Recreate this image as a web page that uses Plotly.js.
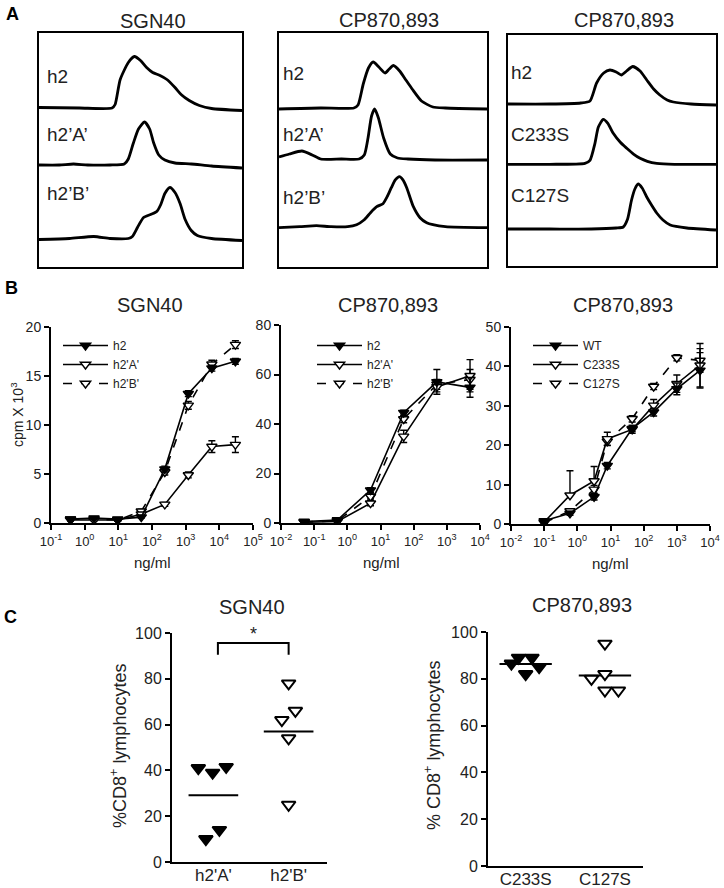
<!DOCTYPE html>
<html lang="en">
<head>
<meta charset="UTF-8">
<title>CD40 antibodies - binding, proliferation, CD8</title>
<script src="https://cdn.plot.ly/plotly-3.0.0.min.js"></script>
<style>
  html, body { margin: 0; padding: 0; background: #fff; }
  #plot { width: 724px; height: 888px; }
</style>
</head>
<body>
<div id="plot"></div>
<script>
// ---------- panel A: flow histograms (x = % of channel range, y = relative counts)
const sgnH2X  = [0, 20, 36, 37.5, 40, 44, 47, 50, 53, 56, 59.6, 63, 67, 70, 74, 79, 85, 100];
const sgnH2Y  = [2, 1.5, 1.5, 5, 30, 47, 53, 49, 42, 37, 34, 30, 22, 15, 9, 4, 1, -1];
const sgnH2AX = [0, 10, 17, 24, 35, 42, 44, 46.5, 49, 52, 54.5, 56.5, 59, 62, 67, 75, 85, 100];
const sgnH2AY = [2, 2, 3, 2, 2, 3, 8, 24, 38, 45, 38, 24, 12, 7, 4, 3, 1, -1];
const sgnH2BX = [0, 15, 27, 35, 44, 46, 48.5, 51.5, 55, 58, 60, 62, 64.5, 67, 69.5, 72, 75, 78, 85, 100];
const sgnH2BY = [0, 1, 3, 1, 1, 3, 12, 22, 25, 28, 35, 46, 52, 47, 36, 20, 9, 4, 1, -1];

const cpH2X  = [0, 20, 36, 38, 40.5, 43, 45.3, 48, 51, 53, 55, 58, 61, 64, 68.5, 74, 80, 100];
const cpH2Y  = [0, 1, 1, 4, 25, 41, 47, 42, 36, 40, 43.5, 38, 29, 20, 8, 2, 1, 0];
const cpH2AX = [0, 5, 11, 16, 20, 30, 38.5, 41, 42.8, 44.5, 46, 47.8, 50.3, 53.5, 57, 62, 75, 100];
const cpH2AY = [3, 6, 9, 5, 1, 1, 1, 5, 22, 44, 51, 42, 22, 6, 2, 1, 0, 0];
const cpH2BX = [0, 10, 18, 25, 33, 37.3, 41, 44, 47, 50, 52, 54, 56, 57.9, 59.5, 61.4, 64.6, 67.8, 71, 74, 80, 100];
const cpH2BY = [0, 1, 2, 1, 1, 3, 8, 15, 21, 24, 31, 40, 48, 51, 48, 40, 21, 10, 5, 3, 1, 0];

const mutH2X    = [0, 20, 35, 39.4, 42.6, 46, 49, 52, 54.5, 57, 60, 63.5, 66.7, 70, 73, 76.5, 79.5, 88, 100];
const mutH2Y    = [0, 0, 1, 3, 21, 31, 34, 32, 29, 33, 37.5, 33, 24, 15, 9, 4, 2, 0, -1];
const mutC233SX = [0, 20, 37, 39.4, 41.8, 43.4, 45.8, 48, 50.6, 54, 57.1, 60.5, 63.5, 67, 71.5, 80, 100];
const mutC233SY = [0, 0, 1, 4, 21, 37, 45, 41, 31, 22, 16, 10, 6, 3, 1, 0, 0];
const mutC127SX = [0, 20, 40, 52, 55.4, 57.5, 59.4, 61, 62.6, 64.5, 66.7, 69, 71.5, 74.5, 78, 86, 100];
const mutC127SY = [0, 0, 0, 1, 2, 10, 29, 40, 45, 41, 32, 24, 16, 9, 4, 1, -1];

// ---------- panel B: proliferation, cpm x 10^3
const conc1     = [0.38, 1.9, 9.6, 48, 240, 1200, 6000, 30000];
const sgnH2     = [0.4, 0.5, 0.4, 0.6, 5.5, 13.2, 15.8, 16.5];
const sgnH2A    = [0.3, 0.3, 0.3, 0.9, 1.9, 4.9, 7.8, 8.0];
const sgnH2B    = [0.4, 0.4, 0.3, 1.2, 5.2, 12.0, 16.2, 18.2];
const sgnH2Err  = [0.1, 0.1, 0.1, 0.1, 0.3, 0.3, 0.3, 0.3];
const sgnH2AErr = [0.1, 0.1, 0.1, 0.1, 0.2, 0.3, 0.6, 0.8];
const sgnH2BErr = [0.1, 0.1, 0.1, 0.2, 0.3, 0.4, 0.4, 0.4];

const conc2    = [0.05, 0.5, 5, 50, 500, 5000];
const cpH2     = [0.6, 1.2, 13.3, 44.6, 57, 54.8];
const cpH2A    = [0.3, 0.6, 8.0, 35.0, 55, 59.5];
const cpH2B    = [0.4, 0.9, 10.7, 42, 56, 58];
const cpH2Err  = [0.3, 0.3, 1, 1, 5, 4];
const cpH2AErr = [0.2, 0.2, 1, 2.5, 2, 6.5];
const cpH2BErr = [0.2, 0.2, 1, 1.5, 2, 4];

const conc3       = [0.1, 0.6, 3.2, 8, 45, 200, 1000, 5000];
const wt          = [0.8, 2.7, 6.9, 14.8, 24.2, 28.4, 34.3, 39.0];
const c233s       = [0.5, 7.3, 10.9, 21.6, 24.0, 30.1, 35.6, 40.3];
const c127s       = [0.3, 3.3, 8.8, 21.0, 26.7, 34.9, 42.2, 41.5];
const wtErr       = [0.3, 0.5, 0.8, 0.8, 0.8, 1, 1.5, 4.5];
const c233sErr    = [0.2, 6.2, 3.7, 1.7, 1, 1.5, 2.2, 5.5];
const c233sErrLow = [0.2, 0, 0, 1.7, 1, 1.5, 2.2, 5.5];
const c127sErr    = [0.2, 0.5, 1, 1, 0.8, 0.8, 0.8, 3];

// ---------- panel C: % CD8+ lymphocytes
const sgnCats   = ["h2'A'", "h2'B'"];
const sgnA      = [41, 39, 41.5, 10, 14];
const sgnB      = [78, 66, 62, 54, 25];
const cpCats    = ['C233S', 'C127S'];
const c233sPct  = [86.5, 89, 82, 89, 85];
const c127sPct  = [95, 80, 82, 75, 75];

// ---------- helpers (pixel -> paper)
const W = 724, H = 888;
function px(x) { return x / W; }
function py(y) { return 1 - y / H; }
function xd(a, b) { return [a / W, b / W]; }
function yd(top, bottom) { return [1 - bottom / H, 1 - top / H]; }

const FONT = 'Liberation Sans, Arial, sans-serif';
const TXT = '#222';

let traces = [];

// ----- A
function hist(xs, ys, base, ax) {
    return {
        x: xs, y: ys.map(v => v + base), type: 'scatter', mode: 'lines',
        line: {color: 'black', width: 2.8, shape: 'spline', smoothing: 0.6},
        xaxis: 'x' + ax, yaxis: 'y' + ax, showlegend: false, hoverinfo: 'skip'
    };
}
traces.push(hist(sgnH2X, sgnH2Y, 157.5, ''));
traces.push(hist(sgnH2AX, sgnH2AY, 100, ''));
traces.push(hist(sgnH2BX, sgnH2BY, 27.5, ''));
traces.push(hist(cpH2X, cpH2Y, 158, '2'));
traces.push(hist(cpH2AX, cpH2AY, 107, '2'));
traces.push(hist(cpH2BX, cpH2BY, 39.3, '2'));
traces.push(hist(mutH2X, mutH2Y, 162, '3'));
traces.push(hist(mutC233SX, mutC233SY, 101.7, '3'));
traces.push(hist(mutC127SX, mutC127SY, 37, '3'));

// ----- B
function curve(x, y, err, errLow, name, filled, dash, ax, leg) {
    return {
        x: x, y: y, type: 'scatter', mode: 'lines+markers', name: name,
        xaxis: 'x' + ax, yaxis: 'y' + ax, legend: leg,
        line: {color: 'black', width: 1.6, dash: dash},
        marker: {symbol: 'triangle-down', size: 9, color: filled ? 'black' : 'white',
                 line: {color: 'black', width: 1.4}},
        error_y: {type: 'data', symmetric: false, array: err, arrayminus: errLow, visible: true,
                  color: 'black', thickness: 1.4, width: 3.5},
        hoverinfo: 'skip'
    };
}
traces.push(curve(conc1, sgnH2B, sgnH2BErr, sgnH2BErr, "h2'B'", false, 'dash', '4', 'legend'));
traces.push(curve(conc1, sgnH2A, sgnH2AErr, sgnH2AErr, "h2'A'", false, 'solid', '4', 'legend'));
traces.push(curve(conc1, sgnH2, sgnH2Err, sgnH2Err, 'h2', true, 'solid', '4', 'legend'));
traces.push(curve(conc2, cpH2B, cpH2BErr, cpH2BErr, "h2'B'", false, 'dash', '5', 'legend2'));
traces.push(curve(conc2, cpH2A, cpH2AErr, cpH2AErr, "h2'A'", false, 'solid', '5', 'legend2'));
traces.push(curve(conc2, cpH2, cpH2Err, cpH2Err, 'h2', true, 'solid', '5', 'legend2'));
traces.push(curve(conc3, c127s, c127sErr, c127sErr, 'C127S', false, 'dash', '6', 'legend3'));
traces.push(curve(conc3, c233s, c233sErr, c233sErrLow, 'C233S', false, 'solid', '6', 'legend3'));
traces.push(curve(conc3, wt, wtErr, wtErr, 'WT', true, 'solid', '6', 'legend3'));

// ----- C
const spreadA  = [-0.2, -0.01, 0.17, -0.1, 0.08];
const spreadB  = [0, 0.09, -0.09, 0, 0];
const spreadC1 = [-0.18, -0.09, 0, 0.08, 0.17];
const spreadC2 = [0, -0.17, 0, 0, 0.17];
function dots(vals, idx, spread, filled, ax) {
    return {
        x: vals.map((v, i) => idx + spread[i]), y: vals, type: 'scatter', mode: 'markers',
        xaxis: 'x' + ax, yaxis: 'y' + ax, showlegend: false, hoverinfo: 'skip',
        marker: {symbol: 'triangle-down', size: 12, color: filled ? 'black' : 'white',
                 line: {color: 'black', width: 2}}
    };
}
function meanLine(vals, idx, ax) {
    const m = vals.reduce((a, b) => a + b, 0) / vals.length;
    return {
        x: [idx - 0.33, idx + 0.33], y: [m, m], type: 'scatter', mode: 'lines',
        xaxis: 'x' + ax, yaxis: 'y' + ax, showlegend: false, hoverinfo: 'skip',
        line: {color: 'black', width: 2}
    };
}
traces.push(meanLine(sgnA, 0, '7'), meanLine(sgnB, 1, '7'));
traces.push(dots(sgnA, 0, spreadA, true, '7'), dots(sgnB, 1, spreadB, false, '7'));
traces.push(meanLine(c233sPct, 0, '8'), meanLine(c127sPct, 1, '8'));
traces.push(dots(c233sPct, 0, spreadC1, true, '8'), dots(c127sPct, 1, spreadC2, false, '8'));

// ---------- axes
function boxAxis(dom, range, anchor) {
    return {domain: dom, range: range, anchor: anchor, showline: true, mirror: true,
            linecolor: 'black', linewidth: 2, showticklabels: false, ticks: '',
            showgrid: false, zeroline: false, fixedrange: true};
}
function logX(dom, lo, hi, anchor) {
    let vals = [], txt = [];
    for (let e = lo; e <= hi; e++) { vals.push(Math.pow(10, e)); txt.push('10<sup>' + e + '</sup>'); }
    return {domain: dom, type: 'log', range: [lo, hi], anchor: anchor,
            tickvals: vals, ticktext: txt, ticks: 'outside', ticklen: 5, tickwidth: 2,
            tickcolor: 'black', showline: true, linecolor: 'black', linewidth: 2,
            showgrid: false, zeroline: false, tickfont: {size: 13, color: TXT}};
}
function linY(dom, top, step, anchor, size) {
    return {domain: dom, range: [0, top], anchor: anchor, dtick: step, tick0: 0,
            ticks: 'outside', ticklen: 5, tickwidth: 2, tickcolor: 'black',
            showline: true, linecolor: 'black', linewidth: 2,
            showgrid: false, zeroline: false, tickfont: {size: size, color: TXT}};
}
function catX(dom, range, cats, anchor) {
    return {domain: dom, range: range, anchor: anchor, tickvals: [0, 1], ticktext: cats,
            ticks: '', showline: true, linecolor: 'black', linewidth: 2.2, ticklabelstandoff: -4,
            showgrid: false, zeroline: false, tickfont: {size: 17, color: TXT}};
}

function legendAt(x, y) {
    return {x: px(x), y: py(y), xanchor: 'left', yanchor: 'top', bgcolor: 'rgba(0,0,0,0)',
            borderwidth: 0, tracegroupgap: 0, traceorder: 'reversed', itemwidth: 45,
            font: {family: FONT, size: 12, color: TXT}};
}

function note(text, x, y, size, opts) {
    return Object.assign({text: text, x: px(x), y: py(y), xref: 'paper', yref: 'paper',
            showarrow: false, font: {family: FONT, size: size, color: TXT},
            xanchor: 'center', yanchor: 'middle'}, opts || {});
}

const annotations = [
    note('<b>A</b>', 12, 14, 18, {font: {family: FONT, size: 18, color: 'black'}}),
    note('<b>B</b>', 11, 288, 18, {font: {family: FONT, size: 18, color: 'black'}}),
    note('<b>C</b>', 10, 617, 18, {font: {family: FONT, size: 18, color: 'black'}}),

    note('SGN40', 153, 21, 20),
    note('CP870,893', 389, 20, 20),
    note('CP870,893', 624, 20, 20),
    note('h2', 45, 76, 19, {xanchor: 'left'}),
    note('h2\u2019A\u2019', 45, 134, 19, {xanchor: 'left'}),
    note('h2\u2019B\u2019', 45, 193, 19, {xanchor: 'left'}),
    note('h2', 281, 73, 19, {xanchor: 'left'}),
    note('h2\u2019A\u2019', 281, 134, 19, {xanchor: 'left'}),
    note('h2\u2019B\u2019', 281, 197, 19, {xanchor: 'left'}),
    note('h2', 509, 72, 19, {xanchor: 'left'}),
    note('C233S', 509, 135, 19, {xanchor: 'left'}),
    note('C127S', 509, 196, 19, {xanchor: 'left'}),

    note('SGN40', 150, 305, 20),
    note('CP870,893', 388, 305, 20),
    note('CP870,893', 623, 305, 20),
    note('cpm X 10<sup>3</sup>', 17, 415, 14, {textangle: -90}),
    note('ng/ml', 152, 562, 15),
    note('ng/ml', 381, 562, 15),
    note('ng/ml', 610, 563, 15),

    note('SGN40', 252, 607, 20),
    note('CP870,893', 582, 605, 20),
    note('%CD8<sup>+</sup> lymphocytes', 118, 746, 18, {textangle: -90}),
    note('% CD8<sup>+</sup> lymphocytes', 432, 746, 18, {textangle: -90}),
    note('*', 253, 634, 18)
];

const shapes = [
    // significance bracket between h2'A' and h2'B'
    {type: 'path', xref: 'x7', yref: 'y7', path: 'M0.06,90.5 L0.06,95.6 L1.0,95.6 L1.0,90.5',
     line: {color: 'black', width: 2}}
];

const layout = {
    width: W, height: H, margin: {l: 0, r: 0, t: 0, b: 0},
    paper_bgcolor: 'white', plot_bgcolor: 'rgba(0,0,0,0)',
    font: {family: FONT, color: TXT}, hovermode: false,

    xaxis:  boxAxis(xd(39, 242), [0, 100], 'y'),
    yaxis:  boxAxis(yd(33, 267), [0, 234], 'x'),
    xaxis2: boxAxis(xd(279, 487), [0, 100], 'y2'),
    yaxis2: boxAxis(yd(33, 267), [0, 234], 'x2'),
    xaxis3: boxAxis(xd(508, 716), [0, 100], 'y3'),
    yaxis3: boxAxis(yd(35, 266), [0, 231], 'x3'),

    xaxis4: logX(xd(51, 253), -1, 5, 'y4'),
    yaxis4: linY(yd(327, 523), 20, 5, 'x4', 14),
    xaxis5: logX(xd(281, 480), -2, 4, 'y5'),
    yaxis5: linY(yd(325, 523), 80, 20, 'x5', 14),
    xaxis6: logX(xd(511, 710), -2, 4, 'y6'),
    yaxis6: linY(yd(327, 524), 50, 10, 'x6', 14),

    xaxis7: catX(xd(172, 327), [-0.55, 1.51], sgnCats, 'y7'),
    yaxis7: linY(yd(633, 862), 100, 20, 'x7', 16),
    xaxis8: catX(xd(488, 643), [-0.475, 1.48], cpCats, 'y8'),
    yaxis8: linY(yd(632, 866), 100, 20, 'x8', 16),

    legend:  legendAt(58, 331),
    legend2: legendAt(312, 331),
    legend3: legendAt(528, 331),

    annotations: annotations,
    shapes: shapes
};

Plotly.newPlot('plot', traces, layout, {displayModeBar: false, staticPlot: true});
</script>
</body>
</html>
